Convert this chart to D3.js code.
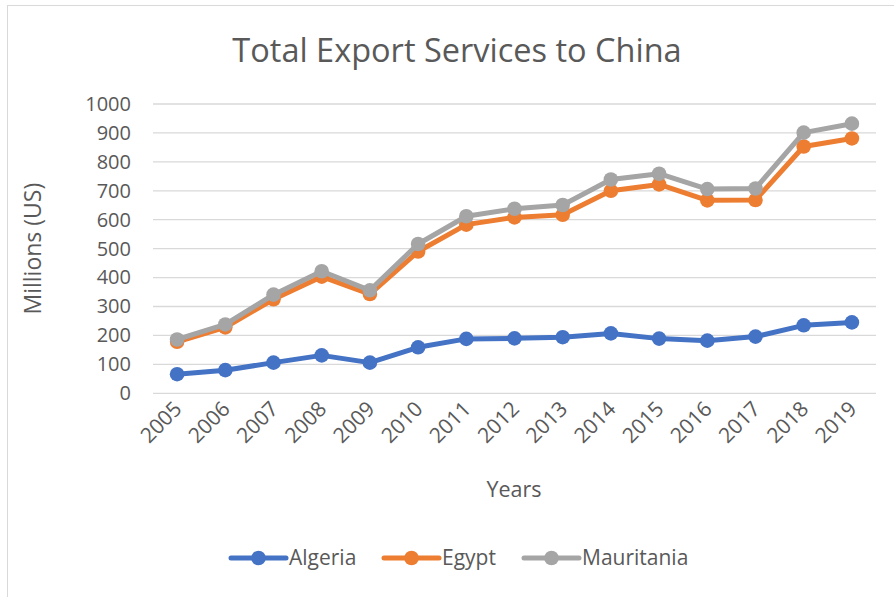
<!DOCTYPE html>
<html>
<head>
<meta charset="utf-8">
<script src="https://cdn.jsdelivr.net/npm/d3@7"></script>
<style>
  html, body { margin: 0; padding: 0; background: #fff; }
  svg text { font-family: "Open Sans", "Liberation Sans", sans-serif; fill: #595959; }
</style>
</head>
<body>
<svg id="chart" width="894" height="597"></svg>
<script>
// Export services to China, millions of US dollars
const years = ["2005","2006","2007","2008","2009","2010","2011","2012","2013","2014","2015","2016","2017","2018","2019"];
const algeria    = [66, 80, 106, 131, 106, 159, 188, 190, 194, 207, 189, 182, 196, 235, 245];
const egypt      = [178, 228, 325, 403, 343, 490, 583, 608, 617, 700, 722, 667, 668, 853, 881];
const mauritania = [186, 238, 341, 422, 356, 516, 612, 638, 651, 739, 759, 706, 708, 901, 932];
const seriesNames  = ["Algeria", "Egypt", "Mauritania"];
const seriesColors = ["#4472C4", "#ED7D31", "#A5A5A5"];
const yTicks = [0, 100, 200, 300, 400, 500, 600, 700, 800, 900, 1000];

const series = [algeria, egypt, mauritania].map((vals, i) => ({
  name: seriesNames[i], color: seriesColors[i], values: vals
}));

const svg = d3.select("#chart");

// outer chart frame
svg.append("rect")
  .attr("x", 7.5).attr("y", 5.5)
  .attr("width", 900).attr("height", 600)
  .attr("fill", "#fff").attr("stroke", "#D9D9D9").attr("stroke-width", 1);

const plot = { left: 153, right: 876, top: 104, bottom: 393.3 };

const x = d3.scaleBand().domain(years).range([plot.left, plot.right]);
const y = d3.scaleLinear().domain([0, 1000]).range([plot.bottom, plot.top]);

// horizontal gridlines
svg.append("g").selectAll("line").data(yTicks).join("line")
  .attr("x1", plot.left).attr("x2", plot.right)
  .attr("y1", d => y(d)).attr("y2", d => y(d))
  .attr("stroke", "#D9D9D9").attr("stroke-width", 1.3);

// y axis labels
const yAxis = d3.axisLeft(y).tickValues(yTicks).tickFormat(d3.format("d")).tickSize(0).tickPadding(0);
const gy = svg.append("g").attr("transform", `translate(${plot.left - 22},0)`).call(yAxis);
gy.select(".domain").remove();
gy.selectAll("text").attr("font-size", 20).attr("fill", "#595959")
  .style("font-family", "'Open Sans', sans-serif");

// x axis labels, rotated
const xAxis = d3.axisBottom(x).tickSize(0).tickPadding(0);
const gx = svg.append("g").attr("transform", `translate(0,${plot.bottom})`).call(xAxis);
gx.select(".domain").remove();
gx.selectAll("text")
  .attr("font-size", 21).attr("fill", "#595959")
  .style("font-family", "'Open Sans', sans-serif")
  .attr("text-anchor", "end")
  .attr("dy", null).attr("y", 0)
  .attr("transform", "translate(6,17) rotate(-45)");

// lines and markers
const line = d3.line()
  .x((d, i) => x(years[i]) + x.bandwidth() / 2)
  .y(d => y(d));

const sg = svg.append("g").selectAll("g").data(series).join("g");
sg.append("path")
  .attr("d", d => line(d.values))
  .attr("fill", "none").attr("stroke", d => d.color)
  .attr("stroke-width", 5).attr("stroke-linejoin", "round").attr("stroke-linecap", "round");
sg.each(function (s) {
  d3.select(this).selectAll("circle").data(s.values).join("circle")
    .attr("cx", (d, i) => x(years[i]) + x.bandwidth() / 2)
    .attr("cy", d => y(d))
    .attr("r", 7.3)
    .attr("fill", s.color);
});

// title
svg.append("text")
  .attr("x", 457).attr("y", 62)
  .attr("text-anchor", "middle")
  .attr("font-size", 32.5)
  .text("Total Export Services to China");

// axis titles
svg.append("text")
  .attr("transform", `translate(41,${(plot.top + plot.bottom) / 2}) rotate(-90)`)
  .attr("text-anchor", "middle")
  .attr("font-size", 23)
  .text("Millions (US)");

svg.append("text")
  .attr("x", 514).attr("y", 497)
  .attr("text-anchor", "middle")
  .attr("font-size", 21.5)
  .text("Years");

// legend
const legendX = [231, 384, 524];
const lg = svg.append("g").selectAll("g").data(series).join("g")
  .attr("transform", (d, i) => `translate(${legendX[i]},558)`);
lg.append("line")
  .attr("x1", 0).attr("x2", 55).attr("y1", 0).attr("y2", 0)
  .attr("stroke", d => d.color).attr("stroke-width", 5).attr("stroke-linecap", "round");
lg.append("circle").attr("cx", 27.5).attr("cy", 0).attr("r", 7.3).attr("fill", d => d.color);
lg.append("text")
  .attr("x", 58).attr("y", 0).attr("dy", "0.35em")
  .attr("font-size", 21)
  .text(d => d.name);
</script>
</body>
</html>
